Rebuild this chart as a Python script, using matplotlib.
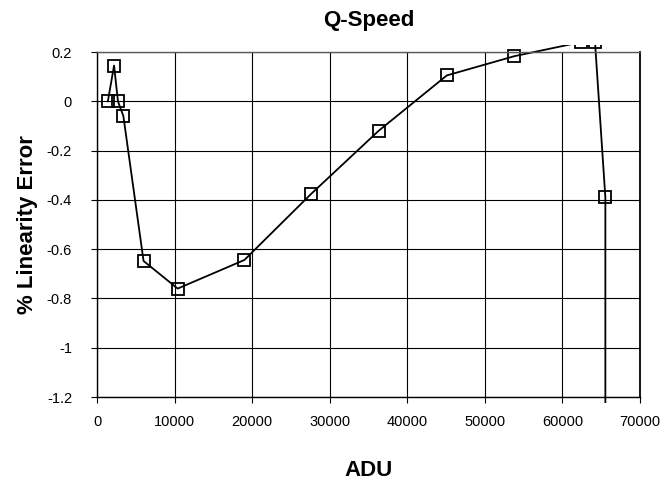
import matplotlib
matplotlib.use("Agg")
import matplotlib.pyplot as plt
from matplotlib.patches import Rectangle

plt.rcParams["font.family"] = ["Liberation Sans", "DejaVu Sans"]

# data
adu = [1400, 2200, 2700, 3400, 6000, 10400, 19000, 27600, 36300,
       45100, 53800, 62400, 64200, 65535, 65535]
lin_err = [0.0, 0.145, 0.0, -0.06, -0.648, -0.76, -0.644, -0.376, -0.12,
           0.105, 0.183, 0.24, 0.24, -0.39, -3.0]
x_ticks = [0, 10000, 20000, 30000, 40000, 50000, 60000, 70000]
y_ticks = [0.2, 0, -0.2, -0.4, -0.6, -0.8, -1, -1.2]

fig = plt.figure(figsize=(6.67, 4.86), dpi=100)
ax = fig.add_axes([97 / 667, 1 - 397 / 486, 543 / 667, 345 / 486])

line, = ax.plot(adu, lin_err, color="black", lw=1.3, marker="s",
                markersize=8, markerfacecolor="none", markeredgecolor="black",
                markeredgewidth=1.3)
# excel lets the series run a few pixels past the plot frame
clip = Rectangle((-0.012, -0.016), 1.024, 1.036, transform=ax.transAxes,
                 facecolor="none", edgecolor="none")
ax.add_patch(clip)
line.set_clip_path(clip)

ax.set_xlim(0, 70000)
ax.set_ylim(-1.2, 0.2)
ax.set_xticks(x_ticks)
ax.set_yticks(y_ticks)
ax.set_yticklabels([f"{v:g}" for v in y_ticks])
ax.grid(True, color="black", lw=0.8)
ax.set_axisbelow(True)
for s in ax.spines.values():
    s.set_color("black")
    s.set_linewidth(1.0)
ax.spines["right"].set_linewidth(1.3)
ax.spines["top"].set_color("0.35")
ax.tick_params(direction="out", length=4, width=0.8, labelsize=10.5)
ax.tick_params(axis="y", pad=14)
ax.tick_params(axis="x", pad=9)

ax.set_title("Q-Speed", fontsize=16, fontweight="bold", pad=19)
ax.set_xlabel("ADU", fontsize=16, fontweight="bold", labelpad=22)
ax.set_ylabel("% Linearity Error", fontsize=16, fontweight="bold", labelpad=6)

fig.savefig("out.png", dpi=100)
